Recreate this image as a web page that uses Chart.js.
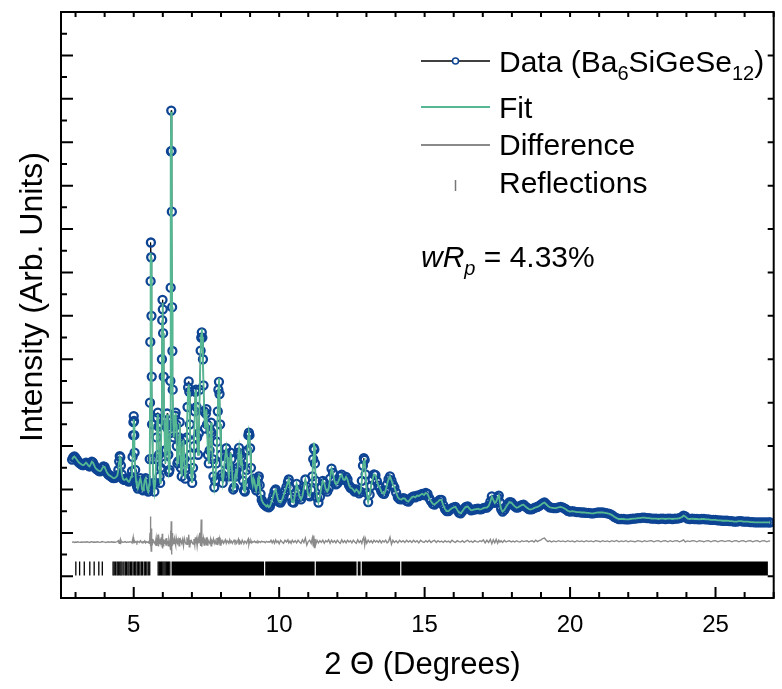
<!DOCTYPE html>
<html>
<head>
<meta charset="utf-8">
<script src="https://cdn.jsdelivr.net/npm/chart.js@4.4.0/dist/chart.umd.min.js"></script>
<style>
html, body { margin: 0; padding: 0; background: #fff; }
canvas { display: block; }
</style>
</head>
<body>
<canvas id="rietveldChart" width="782" height="689"></canvas>
<script>
// --- 1. DATA (arbitrary intensity units) ---
const twoTheta = [
    2.88, 2.92, 2.96, 3.00, 3.04, 3.08, 3.12, 3.16, 3.20, 3.24,
    3.28, 3.32, 3.36, 3.40, 3.44, 3.48, 3.52, 3.56, 3.60, 3.64,
    3.68, 3.72, 3.76, 3.80, 3.84, 3.88, 3.92, 3.96, 4.00, 4.04,
    4.08, 4.12, 4.16, 4.20, 4.24, 4.28, 4.32, 4.36, 4.40, 4.44,
    4.47, 4.50, 4.52, 4.54, 4.56, 4.59, 4.63, 4.67, 4.71, 4.75,
    4.79, 4.83, 4.87, 4.91, 4.94, 4.96, 4.98, 4.99, 5.00, 5.01,
    5.02, 5.03, 5.05, 5.08, 5.11, 5.14, 5.17, 5.20, 5.23, 5.26,
    5.29, 5.32, 5.35, 5.38, 5.41, 5.44, 5.47, 5.50, 5.53, 5.55,
    5.56, 5.57, 5.58, 5.59, 5.60, 5.61, 5.62, 5.63, 5.65, 5.68,
    5.71, 5.74, 5.77, 5.79, 5.81, 5.83, 5.85, 5.87, 5.89, 5.91,
    5.93, 5.95, 5.97, 5.98, 5.99, 6.00, 6.01, 6.03, 6.05, 6.07,
    6.09, 6.11, 6.13, 6.15, 6.17, 6.19, 6.21, 6.23, 6.25, 6.26,
    6.27, 6.28, 6.29, 6.30, 6.31, 6.32, 6.33, 6.34, 6.36, 6.38,
    6.40, 6.42, 6.44, 6.46, 6.48, 6.50, 6.53, 6.56, 6.58, 6.60,
    6.62, 6.65, 6.68, 6.71, 6.74, 6.77, 6.80, 6.83, 6.85, 6.87,
    6.89, 6.91, 6.93, 6.95, 6.98, 7.01, 7.04, 7.07, 7.10, 7.12,
    7.14, 7.16, 7.18, 7.21, 7.24, 7.27, 7.30, 7.32, 7.34, 7.36,
    7.38, 7.40, 7.42, 7.45, 7.48, 7.50, 7.52, 7.55, 7.58, 7.61,
    7.64, 7.66, 7.68, 7.71, 7.74, 7.77, 7.80, 7.83, 7.86, 7.89,
    7.91, 7.93, 7.95, 7.97, 8.00, 8.03, 8.06, 8.09, 8.12, 8.15,
    8.18, 8.21, 8.24, 8.27, 8.30, 8.33, 8.36, 8.39, 8.42, 8.45,
    8.48, 8.51, 8.54, 8.57, 8.60, 8.62, 8.64, 8.67, 8.70, 8.73,
    8.76, 8.79, 8.82, 8.85, 8.88, 8.91, 8.94, 8.96, 8.98, 9.00,
    9.03, 9.06, 9.09, 9.12, 9.15, 9.18, 9.21, 9.24, 9.27, 9.30,
    9.33, 9.36, 9.40, 9.44, 9.48, 9.52, 9.56, 9.60, 9.64, 9.68,
    9.72, 9.76, 9.80, 9.84, 9.88, 9.92, 9.96, 10.00, 10.05, 10.10,
    10.15, 10.20, 10.25, 10.30, 10.33, 10.37, 10.41, 10.45, 10.50, 10.55,
    10.60, 10.65, 10.70, 10.75, 10.80, 10.85, 10.90, 10.95, 11.00, 11.05,
    11.10, 11.14, 11.17, 11.19, 11.21, 11.23, 11.26, 11.30, 11.35, 11.40,
    11.45, 11.50, 11.55, 11.60, 11.65, 11.70, 11.75, 11.80, 11.85, 11.90,
    11.95, 12.00, 12.05, 12.10, 12.15, 12.20, 12.25, 12.30, 12.35, 12.40,
    12.45, 12.50, 12.55, 12.60, 12.65, 12.70, 12.75, 12.80, 12.84, 12.88,
    12.91, 12.94, 12.97, 13.01, 13.06, 13.11, 13.16, 13.21, 13.26, 13.31,
    13.36, 13.41, 13.46, 13.51, 13.56, 13.61, 13.66, 13.71, 13.76, 13.81,
    13.86, 13.91, 13.96, 14.02, 14.08, 14.14, 14.20, 14.26, 14.32, 14.38,
    14.44, 14.50, 14.56, 14.62, 14.68, 14.74, 14.80, 14.86, 14.92, 14.98,
    15.04, 15.10, 15.16, 15.22, 15.28, 15.34, 15.40, 15.46, 15.52, 15.58,
    15.64, 15.70, 15.76, 15.82, 15.88, 15.94, 16.00, 16.06, 16.12, 16.18,
    16.24, 16.30, 16.36, 16.42, 16.48, 16.54, 16.60, 16.66, 16.72, 16.78,
    16.84, 16.90, 16.96, 17.02, 17.08, 17.14, 17.20, 17.26, 17.31, 17.36,
    17.41, 17.46, 17.51, 17.55, 17.59, 17.63, 17.68, 17.74, 17.80, 17.86,
    17.92, 17.98, 18.04, 18.10, 18.16, 18.22, 18.28, 18.34, 18.40, 18.46,
    18.52, 18.58, 18.64, 18.70, 18.76, 18.82, 18.88, 18.94, 19.00, 19.06,
    19.12, 19.18, 19.24, 19.30, 19.36, 19.44, 19.52, 19.60, 19.68, 19.76,
    19.84, 19.92, 20.00, 20.08, 20.16, 20.24, 20.32, 20.40, 20.48, 20.56,
    20.64, 20.72, 20.80, 20.88, 20.96, 21.04, 21.12, 21.20, 21.28, 21.36,
    21.44, 21.52, 21.60, 21.68, 21.76, 21.84, 21.92, 22.00, 22.08, 22.16,
    22.24, 22.32, 22.40, 22.48, 22.56, 22.64, 22.72, 22.80, 22.88, 22.96,
    23.04, 23.12, 23.20, 23.28, 23.36, 23.44, 23.52, 23.60, 23.68, 23.76,
    23.84, 23.90, 23.96, 24.04, 24.12, 24.20, 24.28, 24.36, 24.44, 24.52,
    24.60, 24.68, 24.76, 24.84, 24.92, 25.00, 25.08, 25.16, 25.24, 25.32,
    25.40, 25.48, 25.56, 25.64, 25.72, 25.80, 25.88, 25.96, 26.04, 26.12,
    26.20, 26.28, 26.36, 26.44, 26.52, 26.60, 26.68, 26.76, 26.84, 26.88
];

const observed = [
    2690, 2740, 2760, 2730, 2690, 2650, 2620, 2600, 2580, 2560,
    2560, 2590, 2620, 2590, 2550, 2530, 2580, 2640, 2620, 2560,
    2500, 2470, 2450, 2430, 2420, 2440, 2490, 2530, 2520, 2450,
    2390, 2350, 2330, 2310, 2290, 2270, 2260, 2270, 2290, 2330,
    2450, 2650, 2770, 2740, 2550, 2350, 2240, 2220, 2230, 2250,
    2200, 2180, 2210, 2290, 2420, 2750, 3250, 3550, 3690, 3580,
    3250, 2850, 2450, 2200, 2080, 2020, 2080, 2200, 2260, 2160,
    2000, 1980, 2080, 2220, 2260, 2130, 1990, 1950, 2100, 2700,
    4000, 5400, 6800, 7690, 7350, 6000, 4600, 3500, 2700, 2150,
    1950, 2150, 2700, 3200, 3650, 3770, 3450, 2800, 2300, 2150,
    2500, 3500, 5000, 5900, 6370, 6150, 5600, 4600, 3600, 2900,
    2600, 2900, 3500, 3750, 3400, 2800, 2400, 2450, 3300, 4500,
    6650, 9790, 10730, 9800, 8400, 6200, 5190, 4300, 3500, 3200,
    3450, 3700, 3770, 3500, 3000, 2600, 2650, 3200, 3550, 3100,
    2500, 2300, 2700, 3150, 2700, 2250, 2500, 3200, 3900, 4350,
    4490, 4250, 3500, 2800, 2300, 2150, 2500, 3000, 3800, 4250,
    4300, 3900, 3200, 2800, 3300, 4300, 5200, 5500, 5620, 5500,
    5000, 4400, 3800, 3400, 3750, 3850, 3500, 2800, 2600, 2900,
    3350, 3540, 3300, 2700, 2300, 2050, 2200, 2600, 3100, 3800,
    4300, 4480, 4200, 3500, 2800, 2350, 2150, 2300, 2600, 2800,
    2950, 2750, 2450, 2300, 2550, 2850, 2700, 2300, 2000, 2050,
    2300, 2400, 2300, 2500, 2850, 2960, 2800, 2550, 2750, 2550,
    2200, 1980, 1950, 2100, 2450, 2900, 3250, 3310, 3250, 2950,
    2500, 2200, 2100, 2250, 2200, 2050, 1980, 2100, 2250, 2300,
    2100, 1900, 1760, 1700, 1660, 1640, 1610, 1640, 1590, 1610,
    1680, 1760, 1860, 1960, 2000, 1880, 1760, 1710, 1700, 1760,
    1860, 1960, 2060, 2170, 2230, 2050, 1820, 1710, 1700, 1900,
    2130, 1990, 1830, 1770, 1850, 2050, 2230, 2060, 1870, 1840,
    1990, 2300, 2700, 2950, 2920, 2600, 2200, 1820, 1700, 1830,
    2050, 2200, 2150, 2000, 1950, 2020, 2250, 2480, 2380, 2200,
    2120, 2140, 2210, 2300, 2340, 2230, 2220, 2290, 2230, 2100,
    2040, 2030, 1990, 1950, 2000, 1970, 1910, 1950, 2200, 2550,
    2720, 2680, 2350, 1920, 1710, 1880, 2080, 2230, 2350, 2330,
    2190, 2090, 2040, 1960, 1910, 1900, 1980, 2120, 2240, 2300,
    2210, 2110, 2050, 1930, 1820, 1780, 1770, 1800, 1790, 1740,
    1720, 1770, 1820, 1840, 1820, 1860, 1850, 1880, 1900, 1870,
    1920, 1900, 1800, 1730, 1670, 1650, 1690, 1720, 1760, 1760,
    1640, 1550, 1500, 1500, 1540, 1570, 1590, 1600, 1530, 1470,
    1450, 1500, 1560, 1600, 1610, 1560, 1520, 1530, 1540, 1550,
    1560, 1540, 1550, 1570, 1580, 1580, 1620, 1720, 1840, 1760,
    1690, 1720, 1810, 1860, 1700, 1550, 1490, 1530, 1600, 1660,
    1710, 1700, 1650, 1610, 1580, 1590, 1620, 1640, 1650, 1610,
    1580, 1550, 1540, 1550, 1570, 1590, 1600, 1620, 1650, 1680,
    1700, 1660, 1620, 1590, 1580, 1570, 1570, 1590, 1600, 1580,
    1550, 1510, 1490, 1500, 1490, 1480, 1480, 1470, 1470, 1460,
    1460, 1450, 1450, 1460, 1470, 1470, 1470, 1460, 1450, 1440,
    1410, 1370, 1340, 1320, 1320, 1320, 1310, 1310, 1320, 1330,
    1330, 1340, 1340, 1350, 1350, 1340, 1340, 1330, 1330, 1330,
    1320, 1330, 1330, 1320, 1330, 1330, 1320, 1330, 1330, 1340,
    1360, 1400, 1380, 1330, 1320, 1330, 1320, 1320, 1310, 1320,
    1320, 1310, 1310, 1300, 1300, 1300, 1290, 1290, 1280, 1280,
    1280, 1270, 1270, 1260, 1260, 1270, 1270, 1260, 1260, 1260,
    1250, 1250, 1240, 1240, 1240, 1240, 1240, 1240, 1240, 1240
];

const calculated = [
    2690, 2740, 2760, 2730, 2690, 2650, 2620, 2600, 2580, 2560,
    2560, 2590, 2620, 2590, 2550, 2530, 2580, 2640, 2620, 2560,
    2500, 2470, 2450, 2430, 2420, 2440, 2490, 2530, 2520, 2450,
    2390, 2350, 2330, 2310, 2290, 2270, 2260, 2270, 2290, 2330,
    2450, 2640, 2750, 2730, 2550, 2350, 2240, 2220, 2230, 2250,
    2200, 2180, 2210, 2290, 2420, 2720, 3200, 3500, 3620, 3540,
    3230, 2850, 2450, 2200, 2080, 2020, 2080, 2200, 2260, 2160,
    2000, 1980, 2080, 2220, 2260, 2130, 1990, 1950, 2100, 2650,
    3950, 5300, 6700, 7450, 7300, 6000, 4600, 3500, 2700, 2150,
    1950, 2150, 2700, 3200, 3650, 3740, 3450, 2800, 2300, 2150,
    2500, 3500, 5000, 5850, 6300, 6150, 5600, 4600, 3600, 2900,
    2600, 2900, 3500, 3730, 3400, 2800, 2400, 2450, 3300, 4500,
    6600, 9700, 10700, 9800, 8400, 6200, 5190, 4300, 3500, 3200,
    3450, 3700, 3760, 3500, 3000, 2600, 2650, 3200, 3530, 3100,
    2500, 2300, 2700, 3150, 2700, 2250, 2500, 3200, 3900, 4330,
    4420, 4250, 3500, 2800, 2300, 2150, 2500, 3000, 3800, 4230,
    4300, 3900, 3200, 2800, 3300, 4300, 5200, 5560, 5700, 5500,
    5000, 4400, 3800, 3400, 3750, 3850, 3500, 2800, 2600, 2900,
    3350, 3540, 3300, 2700, 2300, 2050, 2200, 2600, 3100, 3800,
    4350, 4570, 4200, 3500, 2800, 2350, 2150, 2300, 2600, 2800,
    2950, 2750, 2450, 2300, 2550, 2850, 2700, 2300, 2000, 2050,
    2300, 2400, 2300, 2500, 2850, 2960, 2800, 2550, 2750, 2550,
    2200, 1980, 1950, 2100, 2450, 2900, 3250, 3310, 3250, 2950,
    2500, 2200, 2100, 2250, 2200, 2050, 1980, 2100, 2250, 2300,
    2100, 1900, 1760, 1700, 1660, 1640, 1610, 1640, 1590, 1610,
    1680, 1760, 1860, 1960, 2000, 1880, 1760, 1710, 1700, 1760,
    1860, 1960, 2060, 2170, 2230, 2050, 1820, 1710, 1700, 1900,
    2130, 1990, 1830, 1770, 1850, 2050, 2230, 2060, 1870, 1840,
    1990, 2300, 2750, 3080, 3000, 2600, 2200, 1820, 1700, 1830,
    2050, 2200, 2150, 2000, 1950, 2020, 2250, 2480, 2380, 2200,
    2120, 2140, 2210, 2300, 2340, 2230, 2220, 2290, 2230, 2100,
    2040, 2030, 1990, 1950, 2000, 1970, 1910, 1950, 2200, 2550,
    2650, 2680, 2350, 1920, 1710, 1880, 2080, 2230, 2350, 2330,
    2190, 2090, 2040, 1960, 1910, 1900, 1980, 2120, 2240, 2300,
    2210, 2110, 2050, 1930, 1820, 1780, 1770, 1800, 1790, 1740,
    1720, 1770, 1820, 1840, 1820, 1860, 1850, 1880, 1900, 1870,
    1920, 1900, 1800, 1730, 1670, 1650, 1690, 1720, 1760, 1760,
    1640, 1550, 1500, 1500, 1540, 1570, 1590, 1600, 1530, 1470,
    1450, 1500, 1560, 1600, 1610, 1560, 1520, 1530, 1540, 1550,
    1560, 1540, 1550, 1570, 1580, 1580, 1620, 1720, 1840, 1760,
    1690, 1720, 1810, 1860, 1700, 1550, 1490, 1530, 1600, 1660,
    1710, 1700, 1650, 1610, 1580, 1590, 1620, 1640, 1650, 1610,
    1580, 1550, 1540, 1550, 1570, 1590, 1600, 1620, 1650, 1680,
    1700, 1660, 1620, 1590, 1580, 1570, 1570, 1590, 1600, 1580,
    1550, 1510, 1490, 1500, 1490, 1480, 1480, 1470, 1470, 1460,
    1460, 1450, 1450, 1460, 1470, 1470, 1470, 1460, 1450, 1440,
    1410, 1370, 1340, 1320, 1320, 1320, 1310, 1310, 1320, 1330,
    1330, 1340, 1340, 1350, 1350, 1340, 1340, 1330, 1330, 1330,
    1320, 1330, 1330, 1320, 1330, 1330, 1320, 1330, 1330, 1340,
    1360, 1400, 1380, 1330, 1320, 1330, 1320, 1320, 1310, 1320,
    1320, 1310, 1310, 1300, 1300, 1300, 1290, 1290, 1280, 1280,
    1280, 1270, 1270, 1260, 1260, 1270, 1270, 1260, 1260, 1260,
    1250, 1250, 1240, 1240, 1240, 1240, 1240, 1240, 1240, 1240
];

// observed - calculated, drawn with its own offset below the pattern
const difference = [
    785, 792, 780, 790, 786, 795, 788, 782, 790, 786,
    792, 784, 790, 795, 788, 781, 790, 798, 786, 790,
    784, 790, 796, 788, 782, 790, 800, 792, 786, 780,
    788, 794, 786, 790, 795, 784, 790, 786, 792, 800,
    820, 760, 805, 850, 770, 795, 785, 790, 800, 780,
    792, 786, 798, 790, 770, 840, 900, 760, 820, 830,
    760, 810, 785, 800, 770, 805, 790, 780, 820, 795,
    770, 800, 790, 815, 770, 795, 780, 800, 760, 850,
    1000, 700, 1380, 900, 580, 1100, 650, 860, 760, 820,
    780, 740, 880, 700, 820, 960, 690, 850, 740, 810,
    760, 900, 720, 980, 640, 880, 700, 850, 760, 800,
    830, 720, 880, 760, 820, 700, 850, 790, 690, 900,
    1050, 600, 1270, 500, 950, 720, 1000, 760, 820, 740,
    860, 780, 720, 880, 800, 760, 840, 700, 880, 780,
    820, 760, 850, 700, 870, 790, 740, 900, 720, 850,
    960, 680, 840, 760, 820, 780, 740, 860, 720, 900,
    760, 840, 700, 880, 760, 1000, 700, 1306, 680, 900,
    760, 860, 720, 830, 780, 900, 720, 840, 790, 760,
    850, 700, 820, 780, 860, 760, 820, 740, 880, 720,
    900, 760, 850, 720, 830, 780, 820, 760, 800, 840,
    760, 820, 790, 760, 840, 780, 810, 760, 800, 830,
    780, 820, 760, 800, 850, 740, 820, 790, 760, 830,
    790, 770, 810, 790, 760, 820, 860, 740, 800, 780,
    820, 770, 800, 790, 810, 780, 800, 770, 810, 790,
    800, 780, 810, 790, 800, 775, 805, 790, 795, 785,
    830, 770, 820, 760, 840, 780, 810, 750, 830, 790,
    760, 830, 790, 840, 770, 810, 760, 830, 780, 820,
    770, 830, 790, 760, 840, 780, 880, 720, 800, 830,
    760, 880, 700, 940, 660, 860, 740, 830, 770, 820,
    780, 830, 760, 820, 790, 840, 760, 830, 780, 820,
    770, 830, 790, 760, 840, 780, 820, 770, 830, 790,
    820, 770, 830, 790, 760, 840, 780, 820, 760, 860,
    900, 720, 860, 760, 830, 780, 820, 770, 830, 790,
    820, 780, 830, 770, 820, 790, 830, 770, 800, 900,
    740, 830, 780, 820, 770, 830, 790, 820, 780, 830,
    790, 820, 780, 830, 790, 820, 770, 830, 800, 780,
    820, 790, 830, 780, 810, 830, 780, 820, 790, 810,
    780, 820, 790, 810, 780, 830, 800, 780, 820, 800,
    790, 820, 780, 810, 830, 790, 810, 780, 820, 800,
    790, 820, 800, 840, 770, 830, 780, 850, 750, 840,
    770, 850, 760, 830, 790, 820, 780, 830, 790, 810,
    820, 790, 810, 790, 820, 800, 790, 820, 800, 810,
    820, 790, 810, 820, 790, 830, 800, 820, 840, 870,
    880, 830, 800, 820, 790, 815, 795, 820, 800, 815,
    795, 820, 800, 815, 790, 820, 800, 815, 795, 820,
    800, 815, 795, 820, 810, 795, 820, 800, 815, 795,
    820, 800, 825, 795, 815, 800, 820, 795, 815, 805,
    795, 820, 810, 795, 820, 800, 815, 820, 795, 815,
    820, 795, 815, 820, 795, 820, 800, 815, 820, 795,
    815, 840, 790, 815, 800, 820, 815, 795, 820, 810,
    795, 815, 820, 795, 815, 820, 795, 815, 820, 800,
    815, 820, 795, 815, 820, 795, 815, 820, 795, 815,
    820, 795, 815, 820, 795, 815, 820, 795, 815, 810
];

// Bragg reflection markers: isolated ticks, then ranges where they merge into a solid bar
const reflectionPeaks = [
    3.01, 3.14, 3.30, 3.49, 3.64, 3.80, 3.92,
    4.29, 4.33, 4.38, 4.43, 4.47, 4.52, 4.56, 4.60, 4.66, 4.71, 4.75, 4.80,
    4.84, 4.89, 4.93, 4.98, 5.03, 5.07, 5.12, 5.16, 5.21, 5.26, 5.30, 5.36,
    5.40, 5.45, 5.50, 5.55, 5.84, 5.88, 5.92, 5.96, 6.00, 6.04, 6.08, 6.12,
    6.16, 6.20, 6.24
];
const reflectionBands = [[6.30, 9.48], [9.52, 11.22], [11.26, 12.66], [12.70, 12.80], [12.84, 14.16], [14.20, 26.80]];
const reflectionLevel = 177;

const xTickValues = [5, 10, 15, 20, 25];
const wRpText = ' = 4.33%';

// --- 2. STYLE ---
const FONT = 'Arial, "Liberation Sans", sans-serif';
const C_DATA = '#0e4494';
const C_FIT = '#55b893';
const C_DIFF = '#8a8a8a';

function toPoints(xs, ys) {
    return xs.map((x, i) => ({ x: x, y: ys[i] }));
}

const bandPoints = [];
reflectionBands.forEach(b => {
    bandPoints.push({ x: b[0], y: reflectionLevel }, { x: b[1], y: reflectionLevel }, { x: b[1] + 0.005, y: null });
});

// write text with sub-scripts / italics, returns end x
function drawRich(ctx, parts, x, y, size) {
    parts.forEach(p => {
        const fs = p.sub ? Math.round(size * 0.68) : size;
        ctx.font = (p.italic ? 'italic ' : '') + fs + 'px ' + FONT;
        ctx.fillText(p.t, x, y + (p.sub ? size * 0.26 : 0));
        x += ctx.measureText(p.t).width;
    });
    return x;
}

// --- 3. FRAME, INWARD TICKS, TITLES AND LEGEND ---
const decorPlugin = {
    id: 'decor',
    afterDraw(chart) {
        const { ctx, chartArea: a, scales: { x, y } } = chart;
        ctx.save();
        ctx.strokeStyle = '#000';
        ctx.lineWidth = 2;
        ctx.beginPath();
        // left axis: long ticks every 1000, short ones in between; right axis only long ones
        y.ticks.forEach(t => {
            const py = y.getPixelForValue(t.value);
            const major = t.value % 1000 === 0;
            ctx.moveTo(a.left, py); ctx.lineTo(a.left + (major ? 12 : 6), py);
            if (major) { ctx.moveTo(a.right, py); ctx.lineTo(a.right - 6, py); }
        });
        // bottom / top axes: a tick every degree
        for (let v = Math.ceil(x.min); v <= Math.floor(x.max); v++) {
            const px = x.getPixelForValue(v);
            const major = xTickValues.includes(v);
            ctx.moveTo(px, a.bottom); ctx.lineTo(px, a.bottom - (major ? 11 : 6));
            ctx.moveTo(px, a.top); ctx.lineTo(px, a.top + 5);
        }
        ctx.stroke();
        ctx.strokeRect(a.left, a.top, a.right - a.left, a.bottom - a.top);

        // axis titles
        ctx.fillStyle = '#000';
        ctx.font = '31px ' + FONT;
        ctx.textAlign = 'center';
        ctx.textBaseline = 'middle';
        ctx.fillText('2 \u0398 (Degrees)', (a.left + a.right) / 2 + 5, 665);
        ctx.save();
        ctx.font = '32px ' + FONT;
        ctx.translate(33, 297);
        ctx.rotate(-Math.PI / 2);
        ctx.fillText('Intensity (Arb. Units)', 0, 0);
        ctx.restore();

        // legend
        const lx0 = a.left + 360, lx1 = a.left + 429, tx = a.left + 438;
        const rows = [a.top + 60, a.top + 106, a.top + 143, a.top + 181];
        ctx.textAlign = 'left';
        ctx.textBaseline = 'alphabetic';

        ctx.lineWidth = 1.5;
        ctx.strokeStyle = '#000';
        ctx.beginPath(); ctx.moveTo(lx0, rows[0] - 11); ctx.lineTo(lx1, rows[0] - 11); ctx.stroke();
        ctx.beginPath(); ctx.arc((lx0 + lx1) / 2, rows[0] - 11, 3, 0, 2 * Math.PI);
        ctx.fillStyle = '#fff'; ctx.fill();
        ctx.strokeStyle = C_DATA; ctx.lineWidth = 1.5; ctx.stroke();

        ctx.lineWidth = 2;
        ctx.strokeStyle = C_FIT;
        ctx.beginPath(); ctx.moveTo(lx0, rows[1] - 11); ctx.lineTo(lx1, rows[1] - 11); ctx.stroke();
        ctx.strokeStyle = C_DIFF;
        ctx.beginPath(); ctx.moveTo(lx0, rows[2] - 10); ctx.lineTo(lx1, rows[2] - 10); ctx.stroke();
        ctx.lineWidth = 1.5;
        ctx.strokeStyle = '#777';
        ctx.beginPath(); ctx.moveTo((lx0 + lx1) / 2, rows[3] - 13); ctx.lineTo((lx0 + lx1) / 2, rows[3] - 2); ctx.stroke();

        ctx.fillStyle = '#000';
        const LS = 30;
        drawRich(ctx, [{ t: 'Data (Ba' }, { t: '6', sub: true }, { t: 'SiGeSe' }, { t: '12', sub: true }, { t: ')' }], tx, rows[0], LS);
        drawRich(ctx, [{ t: 'Fit' }], tx, rows[1], LS);
        drawRich(ctx, [{ t: 'Difference' }], tx, rows[2], LS);
        drawRich(ctx, [{ t: 'Reflections' }], tx, rows[3], LS);
        drawRich(ctx, [{ t: 'wR', italic: true }, { t: 'p', italic: true, sub: true }, { t: wRpText }], lx0, a.top + 255, LS);
        ctx.restore();
    }
};

// --- 4. CHART ---
new Chart(document.getElementById('rietveldChart').getContext('2d'), {
    type: 'scatter',
    data: {
        datasets: [
            {
                label: 'Data',
                data: toPoints(twoTheta, observed),
                showLine: true,
                borderColor: '#000',
                borderWidth: 1,
                pointRadius: 4,
                pointBorderWidth: 2.3,
                pointBorderColor: C_DATA,
                pointBackgroundColor: 'rgba(255,255,255,0)',
                order: 3
            },
            {
                label: 'Fit',
                data: toPoints(twoTheta, calculated),
                showLine: true,
                borderColor: C_FIT,
                borderWidth: 1.8,
                pointRadius: 0,
                order: 2
            },
            {
                label: 'Difference',
                data: toPoints(twoTheta, difference),
                showLine: true,
                borderColor: C_DIFF,
                borderWidth: 1.4,
                pointRadius: 0,
                order: 1
            },
            {
                label: 'Reflections',
                data: reflectionPeaks.map(v => ({ x: v, y: reflectionLevel })),
                showLine: false,
                pointStyle: 'line',
                pointRotation: 90,
                pointRadius: 7,
                pointBorderWidth: 1.3,
                pointBorderColor: '#000',
                order: 1
            },
            {
                label: 'Reflections (merged)',
                data: bandPoints,
                showLine: true,
                spanGaps: false,
                borderColor: '#000',
                borderWidth: 14,
                borderCapStyle: 'butt',
                pointRadius: 0,
                order: 1
            }
        ]
    },
    options: {
        responsive: false,
        animation: false,
        events: [],
        layout: { padding: { top: 12, right: 3, left: 0, bottom: 0 } },
        plugins: { legend: { display: false }, tooltip: { enabled: false } },
        scales: {
            x: {
                type: 'linear',
                min: 2.5,
                max: 27,
                grid: { display: false },
                border: { display: false },
                afterBuildTicks: scale => { scale.ticks = xTickValues.map(v => ({ value: v })); },
                afterFit: scale => { scale.height = 91; },
                ticks: { color: '#000', padding: 5, font: { family: FONT, size: 24 } }
            },
            y: {
                type: 'linear',
                min: -500,
                max: 13000,
                grid: { display: false },
                border: { display: false },
                ticks: { display: false, stepSize: 500 },
                afterFit: scale => { scale.width = 61; }
            }
        }
    },
    plugins: [decorPlugin]
});
</script>
</body>
</html>
